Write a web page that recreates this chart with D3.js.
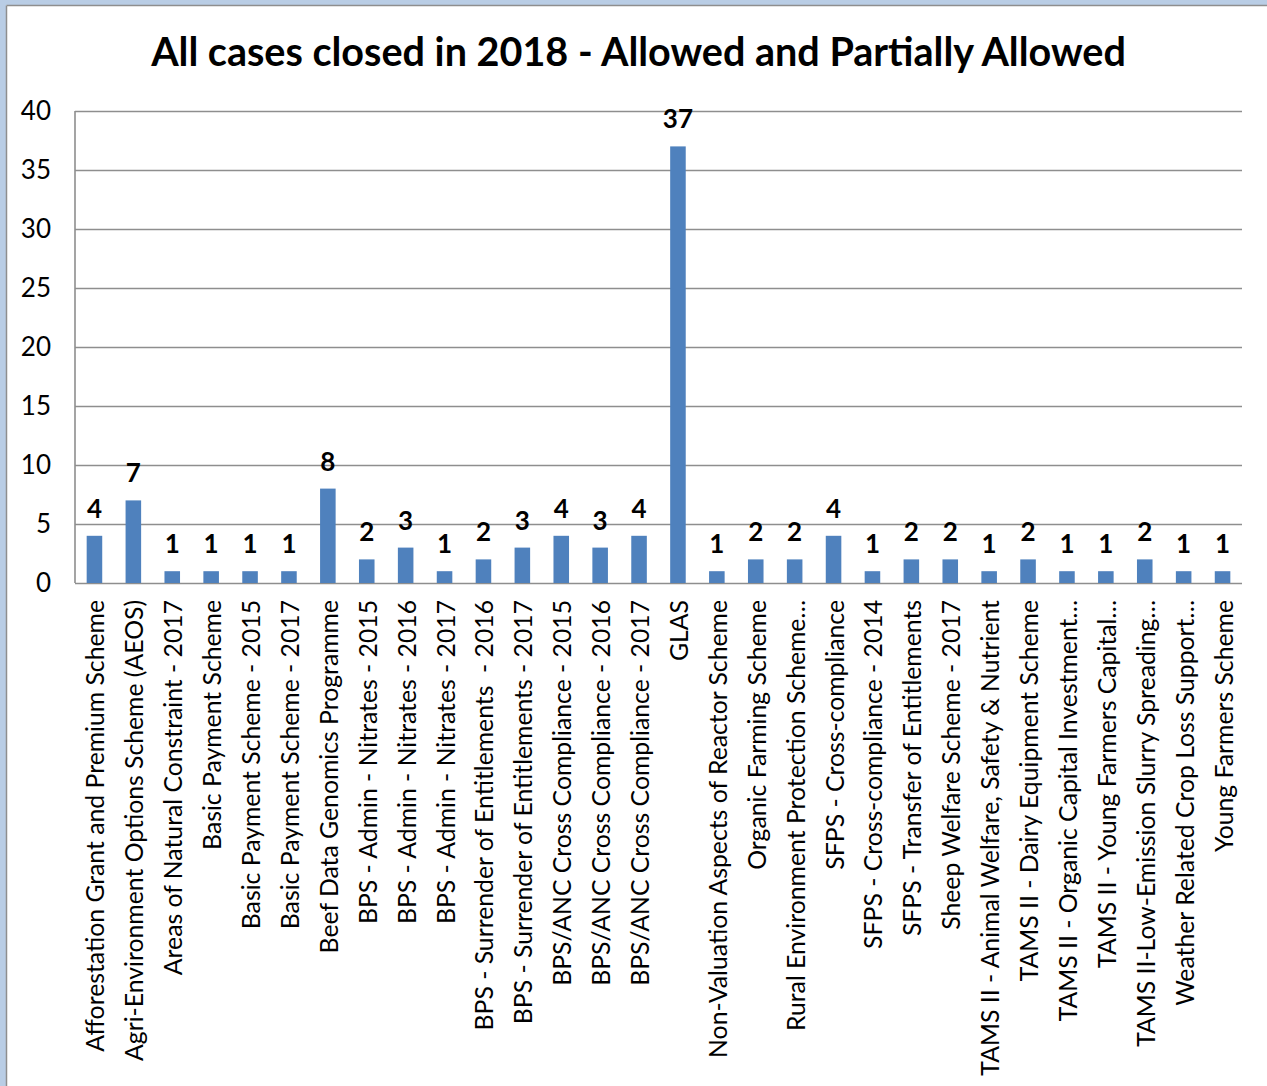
<!DOCTYPE html>
<html>
<head>
<meta charset="utf-8">
<script src="https://cdn.jsdelivr.net/npm/d3@7"></script>
<style>
  html, body { margin: 0; padding: 0; background: #fff; }
  svg text { font-family: Lato, "Open Sans", "Liberation Sans", sans-serif; white-space: pre; }
</style>
</head>
<body>
<svg id="chart" width="1267" height="1086"></svg>
<script>
// Schemes (as shown on the axis) and the number of cases allowed / partially allowed
const categories = [
  "Afforestation Grant and Premium Scheme",
  "Agri-Environment Options Scheme (AEOS)",
  "Areas of Natural Constraint - 2017",
  "Basic Payment Scheme",
  "Basic Payment Scheme - 2015",
  "Basic Payment Scheme - 2017",
  "Beef Data Genomics Programme",
  "BPS - Admin - Nitrates - 2015",
  "BPS - Admin - Nitrates - 2016",
  "BPS - Admin - Nitrates - 2017",
  "BPS - Surrender of Entitlements  - 2016",
  "BPS - Surrender of Entitlements - 2017",
  "BPS/ANC Cross Compliance - 2015",
  "BPS/ANC Cross Compliance - 2016",
  "BPS/ANC Cross Compliance - 2017",
  "GLAS",
  "Non-Valuation Aspects of Reactor Scheme",
  "Organic Farming Scheme",
  "Rural Environment Protection Scheme…",
  "SFPS - Cross-compliance",
  "SFPS - Cross-compliance - 2014",
  "SFPS - Transfer of Entitlements",
  "Sheep Welfare Scheme - 2017",
  "TAMS II - Animal Welfare, Safety & Nutrient",
  "TAMS II - Dairy Equipment Scheme",
  "TAMS II - Organic Capital Investment…",
  "TAMS II - Young Farmers Capital…",
  "TAMS II-Low-Emission Slurry Spreading…",
  "Weather Related Crop Loss Support…",
  "Young Farmers Scheme"
];
const cases = [4, 7, 1, 1, 1, 1, 8, 2, 3, 1, 2, 3, 4, 3, 4, 37, 1, 2, 2, 4, 1, 2, 2, 1, 2, 1, 1, 2, 1, 1];
const yTicks = [0, 5, 10, 15, 20, 25, 30, 35, 40];
const titleText = "All cases closed in 2018 - Allowed and Partially Allowed";

const svg = d3.select("#chart");
const W = 1267, H = 1086;
const plot = { left: 75, right: 1242, top: 111, bottom: 583 };

// Font size that makes a string span a given width
function fitSize(text, width, weight) {
  const t = svg.append("text").attr("font-size", 100).attr("font-weight", weight).text(text);
  const len = t.node().getComputedTextLength();
  t.remove();
  return 100 * width / len;
}
const labelSize = fitSize(categories[0], 452, "normal");
const titleSize = fitSize(titleText, 975, "bold");

// Outer frame
svg.append("rect").attr("x", 0).attr("y", 0).attr("width", W).attr("height", H).attr("fill", "#fff");
svg.append("rect").attr("x", 0).attr("y", 0).attr("width", W).attr("height", 5).attr("fill", "#b9cde5");
svg.append("rect").attr("x", 0).attr("y", 0).attr("width", 6).attr("height", H).attr("fill", "#b9cde5");
svg.append("line").attr("x1", 6.5).attr("x2", W).attr("y1", 5.5).attr("y2", 5.5)
  .attr("stroke", "#8e8e8e").attr("stroke-width", 1.5);
svg.append("line").attr("x1", 6.5).attr("x2", 6.5).attr("y1", 5.5).attr("y2", H)
  .attr("stroke", "#8e8e8e").attr("stroke-width", 1.5);

// Title
svg.append("text")
  .attr("x", 638.5).attr("y", 66)
  .attr("text-anchor", "middle")
  .attr("font-weight", "bold")
  .attr("font-size", titleSize)
  .attr("fill", "#000")
  .text(titleText);

// Scales
const x = d3.scaleBand().domain(categories).range([plot.left, plot.right]).paddingInner(0.6).paddingOuter(0.3);
const y = d3.scaleLinear().domain([0, 40]).range([plot.bottom, plot.top]);

// Horizontal gridlines
const grid = svg.append("g").attr("transform", `translate(${plot.left},0)`)
  .call(d3.axisLeft(y).tickValues(yTicks).tickSize(-(plot.right - plot.left)).tickFormat(""));
grid.select(".domain").remove();
grid.selectAll(".tick line").attr("stroke", "#8e8e8e").attr("stroke-width", 1.6);

// Y axis line and labels
svg.append("line").attr("x1", plot.left).attr("x2", plot.left).attr("y1", plot.top).attr("y2", plot.bottom)
  .attr("stroke", "#8e8e8e").attr("stroke-width", 1.6);
svg.append("g").selectAll("text").data(yTicks).join("text")
  .attr("x", 51).attr("y", d => y(d)).attr("dy", "0.35em")
  .attr("text-anchor", "end")
  .attr("font-size", labelSize * 1.05)
  .attr("fill", "#000")
  .text(d => d);

// Bars
svg.append("g").selectAll("rect").data(categories).join("rect")
  .attr("x", d => x(d))
  .attr("width", x.bandwidth())
  .attr("y", (d, i) => y(cases[i]))
  .attr("height", (d, i) => y(0) - y(cases[i]))
  .attr("fill", "#4f81bd");

// Value labels
svg.append("g").selectAll("text").data(categories).join("text")
  .attr("x", d => x(d) + x.bandwidth() / 2)
  .attr("y", (d, i) => y(cases[i]) - 18)
  .attr("text-anchor", "middle")
  .attr("font-weight", "bold")
  .attr("font-size", labelSize * 1.05)
  .attr("fill", "#000")
  .text((d, i) => cases[i]);

// Category labels, rotated
svg.append("g").selectAll("text").data(categories).join("text")
  .attr("transform", d => `translate(${x(d) + x.bandwidth() / 2 + 10},600) rotate(-90)`)
  .attr("text-anchor", "end")
  .attr("font-size", labelSize)
  .attr("fill", "#000")
  .text(d => d);
</script>
</body>
</html>
